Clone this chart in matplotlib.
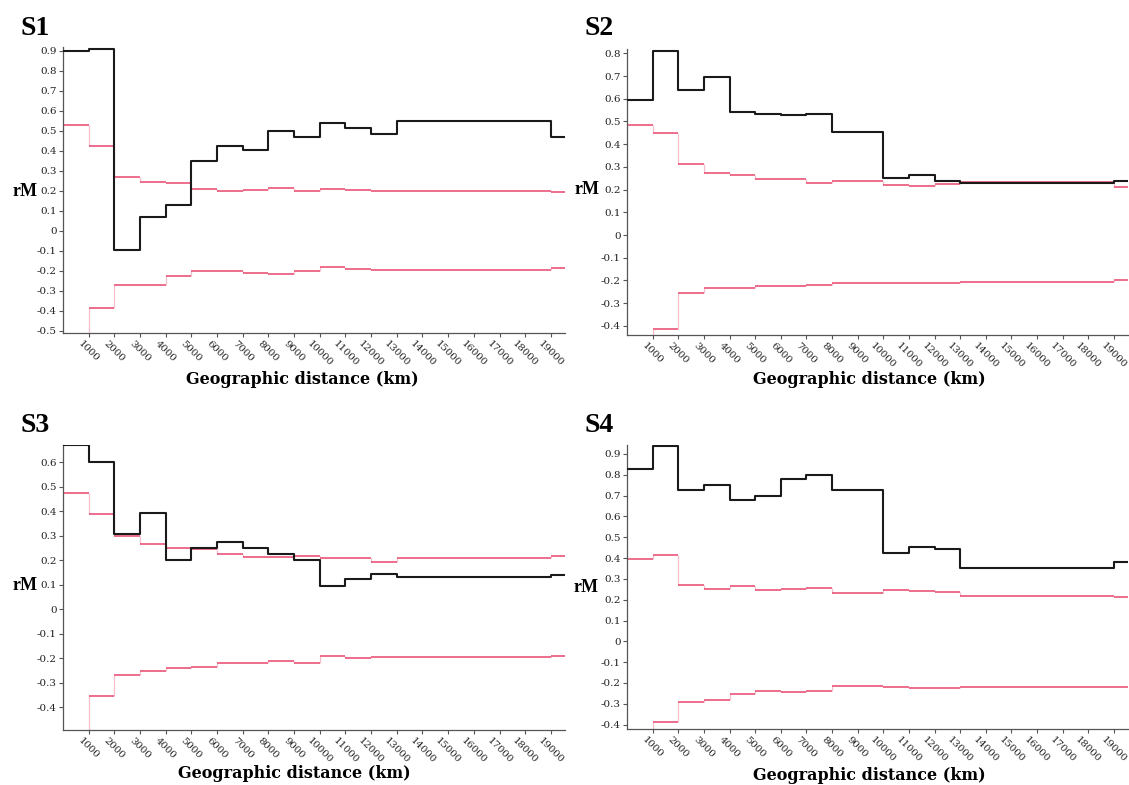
import matplotlib
matplotlib.use("Agg")
import matplotlib.pyplot as plt
import numpy as np

plt.rcParams['axes.unicode_minus'] = False

W, H = 1129, 785

# distance class edges (km)
edges = [0, 1000, 2000, 3000, 4000, 5000, 6000, 7000, 8000, 9000, 10000,
         11000, 12000, 13000, 14000, 15000, 16000, 17000, 18000, 19000, 19550]
xtick_vals = list(range(1000, 20000, 1000))
xtick_labels = [str(v) for v in xtick_vals]

# S1
s1_rm = [0.90, 0.91, -0.096, 0.066, 0.13, 0.347, 0.424, 0.405, 0.50, 0.47,
         0.537, 0.515, 0.485, 0.546, 0.546, 0.546, 0.546, 0.546, 0.546, 0.467]
s1_up = [0.53, 0.422, 0.266, 0.243, 0.238, 0.21, 0.20, 0.204, 0.214, 0.20,
         0.206, 0.203, 0.196, 0.196, 0.196, 0.196, 0.196, 0.196, 0.196, 0.193]
s1_lo = [-0.62, -0.389, -0.272, -0.272, -0.228, -0.204, -0.20, -0.21, -0.218, -0.204,
         -0.184, -0.19, -0.197, -0.197, -0.197, -0.197, -0.197, -0.197, -0.197, -0.188]
s1_yt = [-0.5, -0.4, -0.3, -0.2, -0.1, 0, 0.1, 0.2, 0.3, 0.4, 0.5, 0.6, 0.7, 0.8, 0.9]

# S2
s2_rm = [0.593, 0.81, 0.637, 0.694, 0.54, 0.534, 0.53, 0.533, 0.452, 0.452,
         0.252, 0.263, 0.24, 0.228, 0.228, 0.228, 0.228, 0.228, 0.228, 0.237]
s2_up = [0.485, 0.45, 0.315, 0.272, 0.266, 0.245, 0.245, 0.227, 0.24, 0.24,
         0.22, 0.218, 0.225, 0.234, 0.234, 0.234, 0.234, 0.234, 0.234, 0.212]
s2_lo = [-0.6, -0.414, -0.255, -0.231, -0.231, -0.224, -0.224, -0.22, -0.212, -0.212,
         -0.212, -0.212, -0.212, -0.205, -0.205, -0.205, -0.205, -0.205, -0.205, -0.196]
s2_yt = [-0.4, -0.3, -0.2, -0.1, 0, 0.1, 0.2, 0.3, 0.4, 0.5, 0.6, 0.7, 0.8]

# S3
s3_rm = [0.669, 0.601, 0.309, 0.395, 0.20, 0.252, 0.274, 0.25, 0.227, 0.202,
         0.095, 0.123, 0.145, 0.13, 0.13, 0.13, 0.13, 0.13, 0.13, 0.138]
s3_up = [0.474, 0.39, 0.30, 0.266, 0.251, 0.245, 0.224, 0.212, 0.212, 0.217,
         0.21, 0.208, 0.195, 0.208, 0.208, 0.208, 0.208, 0.208, 0.208, 0.217]
s3_lo = [-0.6, -0.353, -0.267, -0.25, -0.24, -0.237, -0.22, -0.22, -0.213, -0.22,
         -0.19, -0.2, -0.193, -0.193, -0.193, -0.193, -0.193, -0.193, -0.193, -0.189]
s3_yt = [-0.4, -0.3, -0.2, -0.1, 0, 0.1, 0.2, 0.3, 0.4, 0.5, 0.6]

# S4
s4_rm = [0.83, 0.937, 0.728, 0.75, 0.68, 0.698, 0.778, 0.80, 0.728, 0.728,
         0.426, 0.454, 0.443, 0.35, 0.35, 0.35, 0.35, 0.35, 0.35, 0.38]
s4_up = [0.394, 0.416, 0.272, 0.253, 0.264, 0.247, 0.252, 0.256, 0.233, 0.233,
         0.247, 0.244, 0.239, 0.22, 0.22, 0.22, 0.22, 0.22, 0.22, 0.215]
s4_lo = [-0.6, -0.386, -0.29, -0.282, -0.255, -0.239, -0.242, -0.237, -0.214, -0.214,
         -0.22, -0.223, -0.223, -0.218, -0.218, -0.218, -0.218, -0.218, -0.218, -0.217]
s4_yt = [-0.4, -0.3, -0.2, -0.1, 0, 0.1, 0.2, 0.3, 0.4, 0.5, 0.6, 0.7, 0.8, 0.9]

panels = [
    dict(name="S1", rm=s1_rm, up=s1_up, lo=s1_lo, yt=s1_yt, ylim=(-0.51, 0.92),
         box=(63, 565, 46.7, 332.7), lab=(20, 35), rmpos=(25, 191), xl=(302, 379)),
    dict(name="S2", rm=s2_rm, up=s2_up, lo=s2_lo, yt=s2_yt, ylim=(-0.44, 0.82),
         box=(627, 1128, 48.8, 335), lab=(584, 35), rmpos=(587, 190), xl=(869, 379)),
    dict(name="S3", rm=s3_rm, up=s3_up, lo=s3_lo, yt=s3_yt, ylim=(-0.494, 0.672),
         box=(63, 565, 444.7, 730.3), lab=(20, 432), rmpos=(25, 586), xl=(294, 773)),
    dict(name="S4", rm=s4_rm, up=s4_up, lo=s4_lo, yt=s4_yt, ylim=(-0.42, 0.945),
         box=(627, 1128, 444.6, 728.8), lab=(584, 432), rmpos=(586, 587), xl=(869, 775)),
]

fig = plt.figure(figsize=(W / 100, H / 100), dpi=100)
fig.patch.set_facecolor("white")

RED = "#e8466c"
GRAY = "#555555"


def fmt(v):
    s = f"{v:.1f}"
    if s in ("0.0", "-0.0"):
        return "0"
    return s


def red_steps(ax, vals):
    e = np.array(edges, dtype=float)
    v = np.array(vals, dtype=float)
    ax.hlines(v, e[:-1], e[1:], colors=RED, lw=1.1, zorder=2)
    ax.vlines(e[1:-1], v[:-1], v[1:], colors=RED, lw=0.9, alpha=0.35, zorder=2)


for p in panels:
    l, r, t, b = p["box"]
    ax = fig.add_axes([l / W, 1 - b / H, (r - l) / W, (b - t) / H])
    ax.set_xlim(edges[0], edges[-1])
    ax.set_ylim(*p["ylim"])

    red_steps(ax, p["up"])
    red_steps(ax, p["lo"])
    yb = list(p["rm"]) + [p["rm"][-1]]
    ax.step(edges, yb, where="post", color="#1a1a1a", lw=1.5, zorder=3)

    for s in ("top", "right"):
        ax.spines[s].set_visible(False)
    for s in ("left", "bottom"):
        ax.spines[s].set_color(GRAY)
        ax.spines[s].set_linewidth(0.9)

    ax.set_yticks(p["yt"])
    ax.set_yticklabels([fmt(v) for v in p["yt"]], family="DejaVu Serif",
                       fontsize=7.5, color="#222222")
    ax.set_xticks(xtick_vals)
    ax.set_xticklabels(xtick_labels, family="DejaVu Serif", fontsize=7.3,
                       color="#222222", rotation=-45, ha="center", va="top",
                       rotation_mode="default")
    ax.tick_params(axis="both", direction="out", length=3, width=0.8,
                   color=GRAY, pad=1.5)

    fig.text(p["lab"][0] / W, 1 - p["lab"][1] / H, p["name"],
             family="Liberation Serif", fontweight="bold", fontsize=20,
             ha="left", va="baseline")
    fig.text(p["rmpos"][0] / W, 1 - p["rmpos"][1] / H, "rM",
             family="Liberation Serif", fontweight="bold", fontsize=13,
             ha="center", va="center")
    fig.text(p["xl"][0] / W, 1 - p["xl"][1] / H, "Geographic distance (km)",
             family="DejaVu Serif", fontweight="bold", fontsize=11.5,
             ha="center", va="center")

fig.savefig("out.png", dpi=100)
